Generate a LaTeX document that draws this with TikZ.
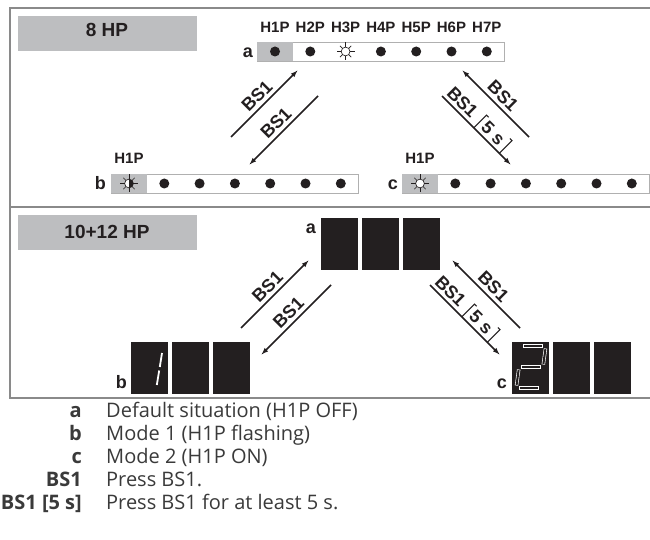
\documentclass[tikz,border=0pt]{standalone}
\usepackage{fontspec}
\setmainfont{Liberation Sans}
\newfontfamily\legfont{Open Sans}
\usetikzlibrary{arrows.meta}
\definecolor{framec}{HTML}{8A8A8A}
\definecolor{hdrc}{HTML}{BDBEC0}
\definecolor{barc}{HTML}{B0B0B0}
\definecolor{inkc}{HTML}{231F20}
\definecolor{legc}{HTML}{3A3A3A}
\newcommand{\ledsun}[2]{%
  \begin{scope}[shift={(#1)}]
    \fill[white] (0,0) circle (4.4);
    \begin{scope}
      \clip (0,-5) rectangle (5,5);
      \fill[#2] (0,0) circle (4.4);
    \end{scope}
    \draw[inkc, line width=0.65pt] (0,0) circle (4.4);
    \foreach \a/\r in {0/9,45/8,90/9,135/8,180/9,225/8,270/9,315/8}
      \draw[inkc, line width=0.65pt] (\a:4.4) -- (\a:\r);
  \end{scope}}
\newcommand{\segout}[2]{%
  \draw[white, line width=3.4pt] (#1) -- (#2);
  \draw[inkc, line width=2.1pt, shorten <=0.65pt, shorten >=0.65pt] (#1) -- (#2);}
\begin{document}
\begin{tikzpicture}[x=1pt,y=-1pt,
  framel/.style={draw=framec, line width=1.4pt},
  hdrbox/.style={fill=hdrc, inner sep=0pt, anchor=north west, minimum width=179pt, minimum height=35pt},
  hdrtxt/.style={font=\bfseries\fontsize{19}{19}\selectfont, inner sep=0pt, anchor=base, text=inkc},
  barbox/.style={draw=barc, fill=white, line width=0.8pt, inner sep=0pt, minimum width=247pt, minimum height=19pt, anchor=north west},
  ledlbl/.style={font=\bfseries\fontsize{15}{15}\selectfont, inner sep=0pt, anchor=base, text=inkc},
  statelbl/.style={font=\bfseries\fontsize{18}{18}\selectfont, inner sep=0pt, anchor=base east, text=inkc},
  bslbl/.style={font=\bfseries\fontsize{18}{18}\selectfont, inner sep=0pt, text=inkc},
  arr/.style={draw=inkc, line width=1.5pt, -{Latex[length=7.5pt,width=5pt]}},
  brk/.style={draw=inkc, line width=1.1pt},
  segbox/.style={fill=inkc, draw=inkc, inner sep=0pt, minimum width=36pt, minimum height=51pt, anchor=north west},
  legkey/.style={font=\legfont\bfseries\fontsize{20}{20}\selectfont, inner sep=0pt, anchor=base east, text=legc},
  legdesc/.style={font=\legfont\fontsize{20}{20}\selectfont, inner sep=0pt, anchor=base west, text=legc},
  dot/.style={fill=inkc}
]
\useasboundingbox (0,0) rectangle (650,540);
\fill[white] (0,0) rectangle (650,540);

% frame
\draw[framel] (650,8) -- (10,8) -- (10,398) -- (650,398);
\draw[framel] (10,207) -- (650,207);

% headers
\node[hdrbox] (hb1) at (18,16) {};
\node[hdrtxt] (ht1) at (107,36.5) {8 HP};
\node[hdrbox] (hb2) at (18,215) {};
\node[hdrtxt] (ht2) at (107,238) {10+12 HP};

% ---------- top panel: LED bars ----------
\node[barbox] (barA) at (257,42) {};
\fill[hdrc] ([shift={(0.4,0.4)}]barA.north west) rectangle ([shift={(36,-0.4)}]barA.south west);
\node[barbox] (barB) at (111,174) {};
\fill[hdrc] ([shift={(0.4,0.4)}]barB.north west) rectangle ([shift={(36,-0.4)}]barB.south west);
\node[barbox] (barC) at (402,174) {};
\fill[hdrc] ([shift={(0.4,0.4)}]barC.north west) rectangle ([shift={(36,-0.4)}]barC.south west);

\foreach \i in {1,2,4,5,6,7} \fill[dot] ({275+35.3*(\i-1)},51.5) circle (5);
\coordinate (ledA3) at ({275+35.3*2},51.5);
\ledsun{ledA3}{white}
\foreach \i in {1,...,7} \node[ledlbl] (LA\i) at ({275+35.3*(\i-1)},33) {H\i P};

\foreach \i in {2,...,7} \fill[dot] ({129+35.3*(\i-1)},183.5) circle (5);
\coordinate (ledB1) at (129,183.5);
\ledsun{ledB1}{inkc}
\node[ledlbl] (LB1) at (129,164) {H1P};

\foreach \i in {2,...,7} \fill[dot] ({420+35.3*(\i-1)},183.5) circle (5);
\coordinate (ledC1) at (420,183.5);
\ledsun{ledC1}{white}
\node[ledlbl] (LC1) at (420,164) {H1P};

\node[statelbl] (sa1) at (253,57.5) {a};
\node[statelbl] (sb1) at (106,189.5) {b};
\node[statelbl] (sc1) at (398,189.5) {c};

% top arrows
\coordinate (A1t) at (231,137); \coordinate (A1h) at (298,70);
\coordinate (A2t) at (318,96);  \coordinate (A2h) at (249,165);
\coordinate (A3t) at (529,137); \coordinate (A3h) at (462,70);
\coordinate (A4t) at (442,96);  \coordinate (A4h) at (511,165);
\draw[arr] (A1t) -- node[bslbl, sloped, above=3.5pt] (A1l) {BS1} (A1h);
\draw[arr] (A2t) -- node[bslbl, sloped, above=3.5pt] (A2l) {BS1} (A2h);
\draw[arr] (A3t) -- node[bslbl, sloped, above=3.5pt] (A3l) {BS1} (A3h);
\draw[arr] (A4t) -- (A4h);
\begin{scope}[shift={(A4t)}, rotate=-45]
  \node[bslbl, rotate=-45, anchor=south] (A4l) at (19,-3.5) {BS1};
  \node[bslbl, rotate=-45, anchor=south] (A4s) at (62.5,-3.5) {5 s};
  \draw[brk] (45,0) -- (45,-18) -- (48,-18);
  \draw[brk] (81,0) -- (81,-18) -- (78,-18);
\end{scope}

% ---------- bottom panel: 7-segment displays ----------
\foreach \n/\x in {1/321,2/362,3/403} \node[segbox] (da\n) at (\x,218) {};
\foreach \n/\x in {1/131,2/172,3/213} \node[segbox] (db\n) at (\x,342) {};
\foreach \n/\x in {1/512,2/553,3/594} \node[segbox] (dc\n) at (\x,342) {};

% digit 1
\draw[white, line width=1.8pt] (162,353) -- (159.8,367);
\draw[white, line width=1.8pt] (159.2,370.5) -- (156.8,385);
% digit 2
\segout{523,346}{543,346}
\segout{545.5,348.5}{543.3,364.5}
\segout{521,367}{541,367}
\segout{518.7,369.5}{516.5,385.5}
\segout{519,388}{539,388}

\node[statelbl] (sa2) at (316,233) {a};
\node[statelbl] (sb2) at (127,388) {b};
\node[statelbl] (sc2) at (507,388) {c};

% bottom arrows
\coordinate (B1t) at (241,328); \coordinate (B1h) at (309,260);
\coordinate (B2t) at (331,285); \coordinate (B2h) at (261,355);
\coordinate (B3t) at (520,328); \coordinate (B3h) at (452,260);
\coordinate (B4t) at (430,285); \coordinate (B4h) at (500,355);
\draw[arr] (B1t) -- node[bslbl, sloped, above=3.5pt] (B1l) {BS1} (B1h);
\draw[arr] (B2t) -- node[bslbl, sloped, above=3.5pt] (B2l) {BS1} (B2h);
\draw[arr] (B3t) -- node[bslbl, sloped, above=3.5pt] (B3l) {BS1} (B3h);
\draw[arr] (B4t) -- (B4h);
\begin{scope}[shift={(B4t)}, rotate=-45]
  \node[bslbl, rotate=-45, anchor=south] (B4l) at (19,-3.5) {BS1};
  \node[bslbl, rotate=-45, anchor=south] (B4s) at (62.5,-3.5) {5 s};
  \draw[brk] (45,0) -- (45,-18) -- (48,-18);
  \draw[brk] (81,0) -- (81,-18) -- (78,-18);
\end{scope}

% ---------- legend ----------
\node[legkey] (k1) at (82,417) {a};
\node[legdesc] (d1) at (106,417) {Default situation (H1P OFF)};
\node[legkey] (k2) at (82,440) {b};
\node[legdesc] (d2) at (106,440) {Mode 1 (H1P flashing)};
\node[legkey] (k3) at (82,463) {c};
\node[legdesc] (d3) at (106,463) {Mode 2 (H1P ON)};
\node[legkey] (k4) at (82,486) {BS1};
\node[legdesc] (d4) at (106,486) {Press BS1.};
\node[legkey] (k5) at (82,509) {BS1 [5 s]};
\node[legdesc] (d5) at (106,509) {Press BS1 for at least 5 s.};
\end{tikzpicture}
\end{document}
